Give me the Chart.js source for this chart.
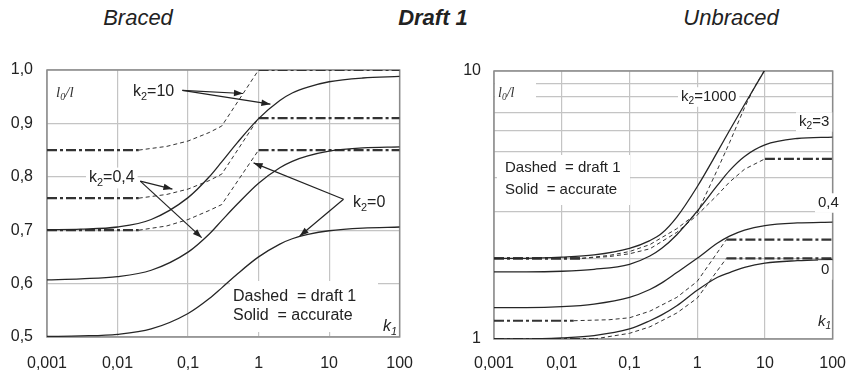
<!DOCTYPE html>
<html>
<head>
<meta charset="utf-8">
<script src="https://cdn.jsdelivr.net/npm/chart.js@4.4.0/dist/chart.umd.min.js"></script>
<style>
  body { margin: 0; background: #fff; width: 861px; height: 378px; position: relative; overflow: hidden;
         font-family: "Liberation Sans", Arial, sans-serif; }
  .title { position: absolute; top: 6px; line-height: 24px; font-size: 22px; font-style: italic; color: #222;
           transform: translateX(-50%); white-space: nowrap; }
  #left { position: absolute; left: 0; top: 0; }
  #right { position: absolute; left: 430px; top: 0; }
</style>
</head>
<body>
<div class="title" style="left:138px">Braced</div>
<div class="title" style="left:433px;font-weight:bold">Draft 1</div>
<div class="title" style="left:731px">Unbraced</div>
<canvas id="left" width="430" height="378"></canvas>
<canvas id="right" width="431" height="378"></canvas>
<script>
const FONT = '"Liberation Sans", Arial, sans-serif';

// x axis (k1), shared by both panels
const k1Ticks = [0.001, 0.01, 0.1, 1, 10, 100];
const k1TickLabels = ['0,001', '0,01', '0,1', '1', '10', '100'];
const k1 = [0.001, 0.003, 0.01, 0.03, 0.1, 0.2, 0.3, 0.5, 1, 2, 3, 5, 10, 30, 100];

// Braced - accurate (solid)
const bracedYTicks = [0.5, 0.6, 0.7, 0.8, 0.9, 1.0];
const bracedYLabels = ['0,5', '0,6', '0,7', '0,8', '0,9', '1,0'];
const bracedAccK2_0  = [0.501, 0.502, 0.505, 0.515, 0.544, 0.572, 0.592, 0.618, 0.650, 0.674, 0.684, 0.692, 0.699, 0.704, 0.706];
const bracedAccK2_04 = [0.607, 0.609, 0.613, 0.625, 0.659, 0.693, 0.718, 0.749, 0.788, 0.817, 0.829, 0.839, 0.848, 0.854, 0.856];
const bracedAccK2_10 = [0.701, 0.702, 0.706, 0.720, 0.761, 0.800, 0.828, 0.864, 0.909, 0.943, 0.957, 0.968, 0.978, 0.985, 0.988];

// Braced - draft 1 (dashed)
const bracedDraftK1    = [0.001, 0.02, 0.05, 0.1, 0.2, 0.3, 1, 100];
const bracedDraftK2_0  = [0.70, 0.70, 0.708, 0.72, 0.737, 0.748, 0.85, 0.85];
const bracedDraftK2_04 = [0.76, 0.76, 0.767, 0.777, 0.793, 0.805, 0.91, 0.91];
const bracedDraftK2_10 = [0.85, 0.85, 0.857, 0.867, 0.883, 0.895, 1.0, 1.0];

// Unbraced - accurate (solid)
const unbrYTicks = [1, 2, 3, 4, 5, 6, 7, 8, 9, 10];
const unbrYLabels = ['1', '', '', '', '', '', '', '', '', '10'];
const unbrAccK2_0    = [1.0, 1.0, 1.01, 1.03, 1.09, 1.17, 1.23, 1.33, 1.52, 1.70, 1.77, 1.85, 1.92, 1.96, 1.98];
const unbrAccK2_04   = [1.31, 1.31, 1.32, 1.35, 1.43, 1.53, 1.62, 1.77, 2.0, 2.28, 2.42, 2.55, 2.65, 2.71, 2.73];
const unbrAccK2_3    = [1.78, 1.78, 1.79, 1.82, 1.90, 2.04, 2.18, 2.45, 3.0, 3.75, 4.25, 4.8, 5.3, 5.6, 5.67];
const unbrAccK2_1000 = [2.0, 2.0, 2.02, 2.06, 2.18, 2.33, 2.48, 2.85, 3.7, 5.0, 6.0, 7.5, 10.1, null, null];

// Unbraced - draft 1 (dashed)
const unbrDraftK2_0_x    = [0.001, 0.03, 0.1, 0.2, 0.5, 1, 2.7, 100];
const unbrDraftK2_0      = [1.0, 1.0, 1.05, 1.11, 1.25, 1.42, 2.0, 2.0];
const unbrDraftK2_04_x   = [0.001, 0.015, 0.05, 0.1, 0.2, 0.5, 1, 2.7, 100];
const unbrDraftK2_04     = [1.17, 1.17, 1.18, 1.2, 1.27, 1.43, 1.64, 2.35, 2.35];
const unbrDraftK2_3_x    = [0.001, 0.02, 0.05, 0.1, 0.2, 0.5, 1, 2, 3, 5, 10, 100];
const unbrDraftK2_3      = [2.0, 2.0, 2.03, 2.08, 2.17, 2.5, 2.9, 3.45, 3.85, 4.3, 4.7, 4.7];
const unbrDraftK2_1000_x = [0.001, 0.02, 0.05, 0.1, 0.2, 0.5, 1, 2, 3, 5, 7, 10];
const unbrDraftK2_1000   = [2.0, 2.0, 2.05, 2.12, 2.25, 2.58, 2.95, 4.3, 5.4, 7.3, 8.7, 10.1];

function pts(xs, ys) { return xs.map((x, i) => ({ x: x, y: ys[i] })); }

function solid(data) {
  return { data: data, borderColor: '#262626', borderWidth: 1.3, pointRadius: 0,
           cubicInterpolationMode: 'monotone', fill: false };
}
function dashed(data) {
  const flat = c => c.p0.parsed.y === c.p1.parsed.y;
  return { data: data, borderColor: '#333', borderWidth: 1, borderDash: [4, 3], pointRadius: 0,
           tension: 0, fill: false,
           segment: { borderWidth: c => flat(c) ? 2.2 : 1,
                      borderDash: c => flat(c) ? [10, 3, 3, 3] : [4, 3] } };
}

// text with subscripts: parts = [[text, isSub], ...]
function rich(c, x, y, parts, size, style, box) {
  const f = (s) => (style || '') + ' ' + s + 'px ' + (style && style.indexOf('serif') >= 0 ? '' : FONT);
  let w = 0;
  const widths = parts.map(p => {
    c.font = (style || '') + ' ' + (p[1] ? size * 0.68 : size) + 'px ' + FONT;
    const m = c.measureText(p[0]).width; w += m; return m;
  });
  if (box) { c.fillStyle = '#fff'; c.fillRect(x - 3, y - size * 0.65, w + 6, size * 1.3); }
  c.fillStyle = '#222'; c.textBaseline = 'middle'; c.textAlign = 'left';
  let cx = x;
  parts.forEach((p, i) => {
    c.font = (style || '') + ' ' + (p[1] ? size * 0.68 : size) + 'px ' + FONT;
    c.fillText(p[0], cx, p[1] ? y + size * 0.3 : y);
    cx += widths[i];
  });
}

function loverl(c, x, y, size) {
  const parts = [['l', false], ['0', true], ['/l', false]];
  let cx = x;
  c.fillStyle = '#333'; c.textBaseline = 'middle'; c.textAlign = 'left';
  parts.forEach(p => {
    c.font = 'italic ' + (p[1] ? size * 0.68 : size) + 'px "Liberation Serif", "DejaVu Serif", serif';
    c.fillText(p[0], cx, p[1] ? y + size * 0.3 : y);
    cx += c.measureText(p[0]).width;
  });
}

function arrow(c, x0, y0, x1, y1) {
  c.strokeStyle = '#222'; c.fillStyle = '#222'; c.lineWidth = 1.2;
  c.beginPath(); c.moveTo(x0, y0); c.lineTo(x1, y1); c.stroke();
  const a = Math.atan2(y1 - y0, x1 - x0), L = 9, H = 3.2;
  c.beginPath();
  c.moveTo(x1, y1);
  c.lineTo(x1 - L * Math.cos(a) + H * Math.sin(a), y1 - L * Math.sin(a) - H * Math.cos(a));
  c.lineTo(x1 - L * Math.cos(a) - H * Math.sin(a), y1 - L * Math.sin(a) + H * Math.cos(a));
  c.closePath(); c.fill();
}

const frame = {
  id: 'frame',
  beforeDatasetsDraw(chart) {
    const a = chart.chartArea, c = chart.ctx;
    c.save(); c.strokeStyle = '#8a8a8a'; c.lineWidth = 1.5;
    c.strokeRect(a.left, a.top, a.right - a.left, a.bottom - a.top);
    c.restore();
  }
};

function axes(yType, yMin, yMax, yTicks, yLabels, yWidth, xHeight, xPad, yPad) {
  const grid = { color: '#c4c4c4', lineWidth: 1.2, drawTicks: false };
  const tickFont = { family: FONT, size: 16 };
  return {
    x: { type: 'logarithmic', min: 0.001, max: 100, grid: grid, border: { display: false },
         afterBuildTicks: s => { s.ticks = k1Ticks.map(v => ({ value: v })); },
         afterFit: s => { s.height = xHeight; },
         ticks: { padding: xPad, color: '#222', font: tickFont, maxRotation: 0, autoSkip: false,
                  callback: v => k1TickLabels[k1Ticks.indexOf(v)] } },
    y: { type: yType, min: yMin, max: yMax, grid: grid, border: { display: false },
         afterBuildTicks: s => { s.ticks = yTicks.map(v => ({ value: v })); },
         afterFit: s => { s.width = yWidth; },
         ticks: { padding: yPad, color: '#222', font: tickFont, autoSkip: false,
                  callback: v => yLabels[yTicks.indexOf(v)] } }
  };
}

// ---- Braced ----
const bracedArrows = [
  { from: [0.083, 0.962], to: [0.6, 0.956] },
  { from: [0.083, 0.962], to: [1.47, 0.936] },
  { from: [0.021, 0.792], to: [0.06, 0.777] },
  { from: [0.021, 0.792], to: [0.156, 0.686] },
  { from: [16, 0.758], to: [0.85, 0.826] },
  { from: [16, 0.758], to: [3.83, 0.689] }
];

const bracedNotes = {
  id: 'bracedNotes',
  afterDatasetsDraw(chart) {
    const c = chart.ctx, sx = chart.scales.x, sy = chart.scales.y;
    c.save();
    loverl(c, 56, 93, 15);
    rich(c, 133, 92, [['k', 0], ['2', 1], ['=10', 0]], 16, '', false);
    rich(c, 89, 178, [['k', 0], ['2', 1], ['=0,4', 0]], 16, '', true);
    rich(c, 353, 203, [['k', 0], ['2', 1], ['=0', 0]], 16, '', true);
    c.fillStyle = '#fff'; c.fillRect(230, 281, 148, 51);
    rich(c, 233, 297, [['Dashed  = draft 1', 0]], 16, '', false);
    rich(c, 233, 316, [['Solid  = accurate', 0]], 16, '', false);
    rich(c, 383, 327, [['k', 0], ['1', 1]], 16, 'italic', false);
    bracedArrows.forEach(a => arrow(c,
      sx.getPixelForValue(a.from[0]), sy.getPixelForValue(a.from[1]),
      sx.getPixelForValue(a.to[0]), sy.getPixelForValue(a.to[1])));
    c.restore();
  }
};

new Chart(document.getElementById('left'), {
  type: 'line',
  data: {
    datasets: [
      solid(pts(k1, bracedAccK2_0)),
      solid(pts(k1, bracedAccK2_04)),
      solid(pts(k1, bracedAccK2_10)),
      dashed(pts(bracedDraftK1, bracedDraftK2_0)),
      dashed(pts(bracedDraftK1, bracedDraftK2_04)),
      dashed(pts(bracedDraftK1, bracedDraftK2_10))
    ]
  },
  options: {
    responsive: false, animation: false, events: [],
    layout: { padding: { top: 70, right: 23, left: 0, bottom: 0 }, autoPadding: false },
    plugins: { legend: { display: false }, tooltip: { enabled: false } },
    scales: axes('linear', 0.5, 1.0, bracedYTicks, bracedYLabels, 47, 41, 17, 14)
  },
  plugins: [frame, bracedNotes]
});

// ---- Unbraced ----
const unbrNotes = {
  id: 'unbrNotes',
  afterDatasetsDraw(chart) {
    const c = chart.ctx, a = chart.chartArea;
    c.save();
    c.fillStyle = '#fff'; c.fillRect(a.left + 1, 77, 41, 31);
    loverl(c, 68, 93, 14);
    rich(c, 251, 97, [['k', 0], ['2', 1], ['=1000', 0]], 15, '', true);
    rich(c, 369, 122, [['k', 0], ['2', 1], ['=3', 0]], 15, '', true);
    rich(c, 388, 203, [['0,4', 0]], 15, '', true);
    rich(c, 391, 270, [['0', 0]], 15, '', true);
    rich(c, 388, 322, [['k', 0], ['1', 1]], 15, 'italic', false);
    c.fillStyle = '#fff'; c.fillRect(67, 155, 133, 50);
    rich(c, 75, 168, [['Dashed  = draft 1', 0]], 15, '', false);
    rich(c, 75, 190, [['Solid  = accurate', 0]], 15, '', false);
    c.restore();
  }
};

new Chart(document.getElementById('right'), {
  type: 'line',
  data: {
    datasets: [
      solid(pts(k1, unbrAccK2_0)),
      solid(pts(k1, unbrAccK2_04)),
      solid(pts(k1, unbrAccK2_3)),
      solid(pts(k1, unbrAccK2_1000)),
      dashed(pts(unbrDraftK2_0_x, unbrDraftK2_0)),
      dashed(pts(unbrDraftK2_04_x, unbrDraftK2_04)),
      dashed(pts(unbrDraftK2_3_x, unbrDraftK2_3)),
      dashed(pts(unbrDraftK2_1000_x, unbrDraftK2_1000))
    ]
  },
  options: {
    responsive: false, animation: false, events: [],
    layout: { padding: { top: 71, right: 14, left: 0, bottom: 0 }, autoPadding: false },
    plugins: { legend: { display: false }, tooltip: { enabled: false } },
    scales: axes('logarithmic', 1, 10, unbrYTicks, unbrYLabels, 64, 39, 15, 13)
  },
  plugins: [frame, unbrNotes]
});
</script>
</body>
</html>
